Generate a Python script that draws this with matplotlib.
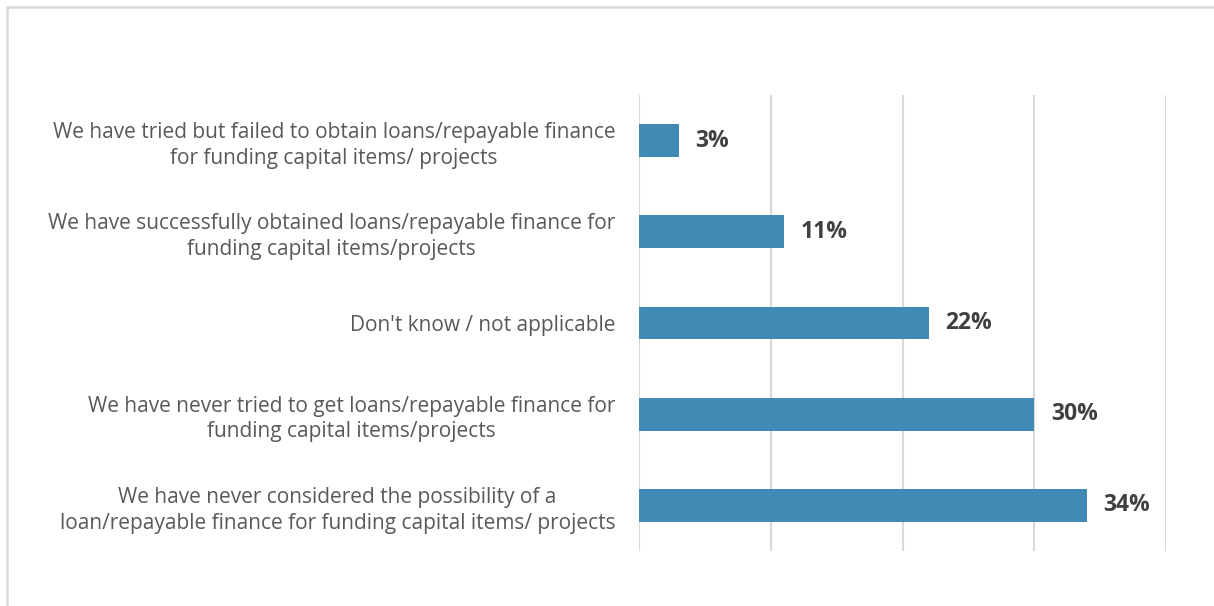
import matplotlib
matplotlib.use("Agg")
import matplotlib.pyplot as plt
import matplotlib.patches as mpatches

categories = [
    "We have tried but failed to obtain loans/repayable finance\nfor funding capital items/ projects",
    "We have successfully obtained loans/repayable finance for\nfunding capital items/projects",
    "Don't know / not applicable",
    "We have never tried to get loans/repayable finance for\nfunding capital items/projects",
    "We have never considered the possibility of a\nloan/repayable finance for funding capital items/ projects",
]
values = [3, 11, 22, 30, 34]

BAR_COLOR = "#418AB6"
GRID_COLOR = "#D9D9D9"
LABEL_COLOR = "#595959"
VALUE_COLOR = "#404040"
FONT = ["Open Sans", "DejaVu Sans"]

fig = plt.figure(figsize=(12.14, 6.06), dpi=100)
ax = fig.add_axes([0.5264, 0.0908, 0.4341, 0.7524])

y = list(range(len(categories)))
ax.barh(y, values, height=0.36, color=BAR_COLOR, zorder=2)
ax.set_ylim(len(categories) - 0.5, -0.5)
ax.set_xlim(0, 40)

ax.set_xticks([0, 10, 20, 30, 40])
ax.xaxis.grid(True, color=GRID_COLOR, lw=1.5, zorder=0)
ax.tick_params(axis="x", length=0, labelbottom=False)
ax.tick_params(axis="y", length=0, pad=17)
ax.set_yticks(y)
ax.set_yticklabels(categories, fontsize=15, color=LABEL_COLOR, family=FONT,
                   linespacing=1.3)
for lbl in ax.get_yticklabels():
    lbl.set_horizontalalignment("right")
    lbl.set_multialignment("center")
for s in ax.spines.values():
    s.set_visible(False)

for yi, v in zip(y, values):
    ax.annotate(f"{v}%", (v, yi), xytext=(12, 0), textcoords="offset points",
                va="center", ha="left", fontsize=16.5, fontweight="bold",
                color=VALUE_COLOR, family=FONT)

# chart frame: top and left edges only show inside the canvas
frame = mpatches.Rectangle((7 / 1214, -0.1), 1.2, 1 - 7 / 606 + 0.1,
                           transform=fig.transFigure, fill=False,
                           edgecolor=GRID_COLOR, lw=1.8)
fig.add_artist(frame)

fig.savefig("out.png", dpi=100)
